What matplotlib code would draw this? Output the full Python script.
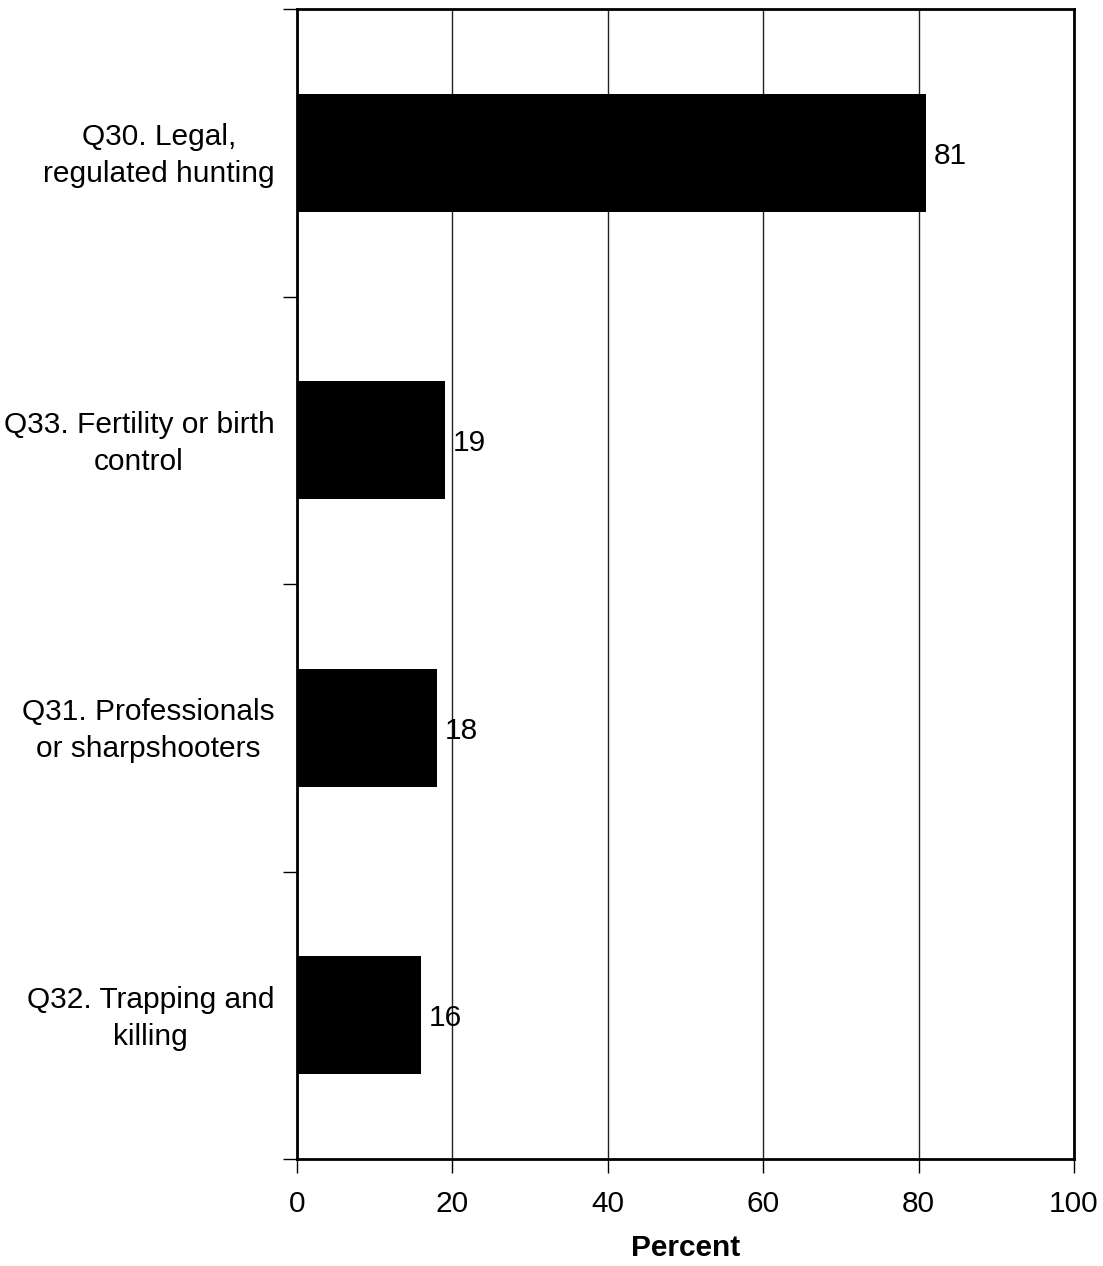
import matplotlib
matplotlib.use("Agg")
import matplotlib.pyplot as plt
import numpy as np

categories = ["Q30. Legal,\nregulated hunting",
              "Q33. Fertility or birth\ncontrol",
              "Q31. Professionals\nor sharpshooters",
              "Q32. Trapping and\nkilling"]
values = [81, 19, 18, 16]
xticks = [0, 20, 40, 60, 80, 100]

plt.rcParams['font.family'] = ['Liberation Sans', 'DejaVu Sans']
FS = 21.5

fig = plt.figure(figsize=(11.03, 12.66), dpi=100)
ax = fig.add_axes([297/1103, 1-1159/1266, (1074-297)/1103, (1159-9)/1266])

n = len(categories)
ypos = np.arange(n)
ax.barh(ypos, values, height=0.41, color='black', zorder=3)
ax.set_ylim(n-0.5, -0.5)
ax.set_xlim(0, 100)

ax.set_xticks(xticks)
ax.set_xticklabels([str(t) for t in xticks], fontsize=FS)
ax.tick_params(axis='x', direction='out', length=10, width=1, pad=12, colors='black')

ax.set_yticks(ypos)
ax.set_yticklabels([])
ax.tick_params(axis='y', which='major', length=0)
ax.set_yticks(np.arange(-0.5, n, 1.0), minor=True)
ax.tick_params(axis='y', which='minor', direction='out', length=10, width=1)

for y, lab in zip(ypos, categories):
    ax.text(-2.9, y + 0.01, lab, ha='right', va='center', multialignment='center',
            fontsize=FS, linespacing=1.4, transform=ax.transData, clip_on=False)

for y, v in zip(ypos, values):
    ax.text(v + 1.0, y + 0.01, str(v), ha='left', va='center', fontsize=FS, zorder=4)

ax.xaxis.grid(True, color='#222222', linewidth=1, zorder=0)
for s in ax.spines.values():
    s.set_linewidth(2)
    s.set_color('black')

ax.set_xlabel("Percent", fontsize=FS, fontweight='bold', labelpad=12)

fig.savefig("out.png", dpi=100)
